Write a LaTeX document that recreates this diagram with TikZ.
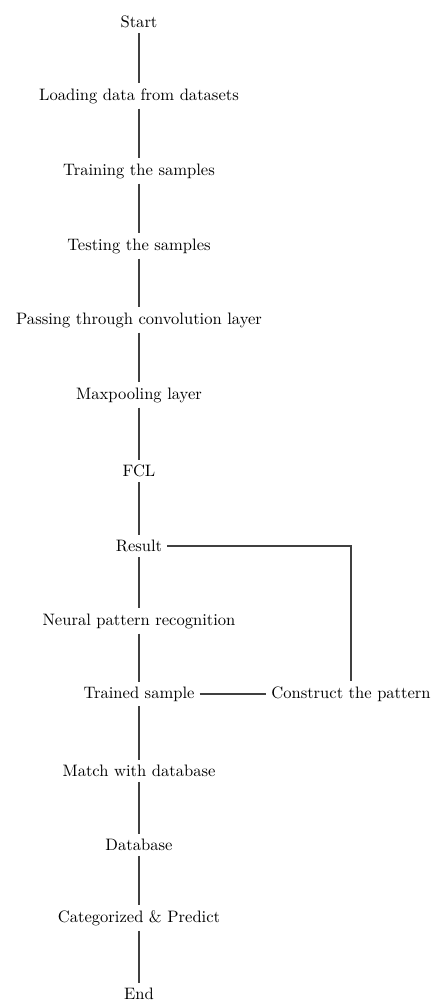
\documentclass[tikz,border=0pt]{standalone}
\begin{document}
\begin{tikzpicture}[x=0.625pt,y=-0.625pt,
  lbl/.style={inner sep=3pt, font=\fontsize{10.35}{12.4}\selectfont},
  conn/.style={draw=black!75, line width=0.9pt}]
\useasboundingbox (0,0) rectangle (432,1003);
\node[lbl] (start) at (139,22) {Start};
\node[lbl] (load) at (139,96) {Loading data from datasets};
\node[lbl] (train) at (139,171) {Training the samples};
\node[lbl] (test) at (139,246) {Testing the samples};
\node[lbl] (pass) at (139,320) {Passing through convolution layer};
\node[lbl] (maxp) at (139,395) {Maxpooling layer};
\node[lbl] (fcl) at (139,471) {FCL};
\node[lbl] (result) at (139,546) {Result};
\node[lbl] (neural) at (139,621) {Neural pattern recognition};
\node[lbl] (trained) at (139,694) {Trained sample};
\node[lbl] (match) at (139,771) {Match with database};
\node[lbl] (db) at (139,845) {Database};
\node[lbl] (cat) at (139,918) {Categorized \& Predict};
\node[lbl] (end) at (139,994) {End};
\node[lbl] (construct) at (351,694) {Construct the pattern};
\foreach \a/\b in {start/load,load/train,train/test,test/pass,pass/maxp,maxp/fcl,fcl/result,result/neural,neural/trained,trained/match,match/db,db/cat,cat/end}
  \draw[conn] (\a) -- (\b);
\draw[conn] (trained) -- (construct);
\draw[conn] (result.east) -| (construct.north);
\end{tikzpicture}
\end{document}
